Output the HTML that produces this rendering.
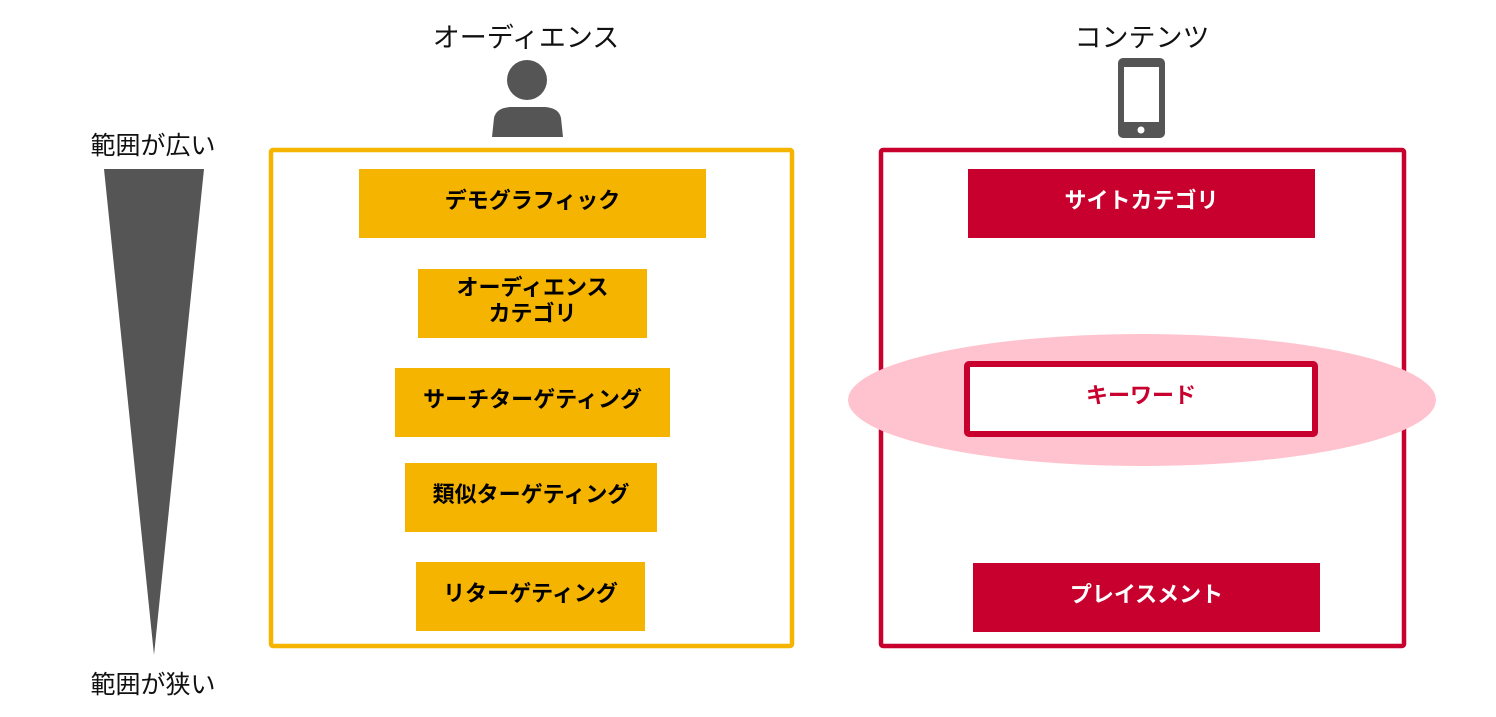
<!DOCTYPE html>
<html><head><meta charset="utf-8"><style>
body{margin:0;width:1496px;height:717px;background:#fff;position:relative;overflow:hidden;font-family:"Liberation Sans","Noto Sans CJK JP",sans-serif}
.a{position:absolute}
.b{position:absolute;display:flex;align-items:center;justify-content:center;text-align:center;font-weight:bold;font-size:22px;line-height:26px;box-sizing:border-box;padding-bottom:6px}
.y{background:#F5B400;color:#000}
.r{background:#C8002D;color:#fff}
.t{position:absolute;font-size:27px;color:#111;text-align:center}
.l{position:absolute;font-size:25px;color:#111;width:220px;text-align:center}
</style></head><body>
<svg class="a" style="left:0;top:0" width="1496" height="717">
<polygon points="104,169 204,169 154,655" fill="#555"/>
<circle cx="527" cy="80" r="20" fill="#555"/>
<path d="M492,137 L494,118 Q496,108 510,107 L545,107 Q559,108 561,118 L563,137 Z" fill="#555"/>
<rect x="1118" y="58" width="47" height="80" rx="5" fill="#555"/>
<rect x="1124" y="67" width="35" height="55" fill="#fff"/>
<circle cx="1141" cy="130" r="3.5" fill="#fff"/>
<rect x="271" y="150" width="521" height="496" fill="none" stroke="#F5B400" stroke-width="4.5" rx="2"/>
<rect x="881" y="150" width="523" height="496" fill="none" stroke="#C8002D" stroke-width="4.5" rx="2"/>
<ellipse cx="1142" cy="400" rx="294" ry="66" fill="#FFC3CF"/>
<rect x="967" y="364" width="348" height="70" fill="#fff" stroke="#C8002D" stroke-width="6" rx="2"/>
</svg>
<div class="t" style="left:376px;top:16px;width:300px">オーディエンス</div>
<div class="t" style="left:992px;top:16px;width:300px">コンテンツ</div>
<div class="l" style="left:43px;top:126px">範囲が広い</div>
<div class="l" style="left:43px;top:665px">範囲が狭い</div>
<div class="b y" style="left:359px;top:169px;width:347px;height:69px">デモグラフィック</div>
<div class="b y" style="left:418px;top:269px;width:229px;height:69px">オーディエンス<br>カテゴリ</div>
<div class="b y" style="left:395px;top:368px;width:275px;height:69px">サーチターゲティング</div>
<div class="b y" style="left:405px;top:463px;width:252px;height:69px">類似ターゲティング</div>
<div class="b y" style="left:416px;top:562px;width:229px;height:69px">リターゲティング</div>
<div class="b r" style="left:968px;top:169px;width:347px;height:69px">サイトカテゴリ</div>
<div class="b" style="left:967px;top:364px;width:348px;height:70px;color:#C8002D">キーワード</div>
<div class="b r" style="left:973px;top:563px;width:347px;height:69px">プレイスメント</div>
</body></html>
